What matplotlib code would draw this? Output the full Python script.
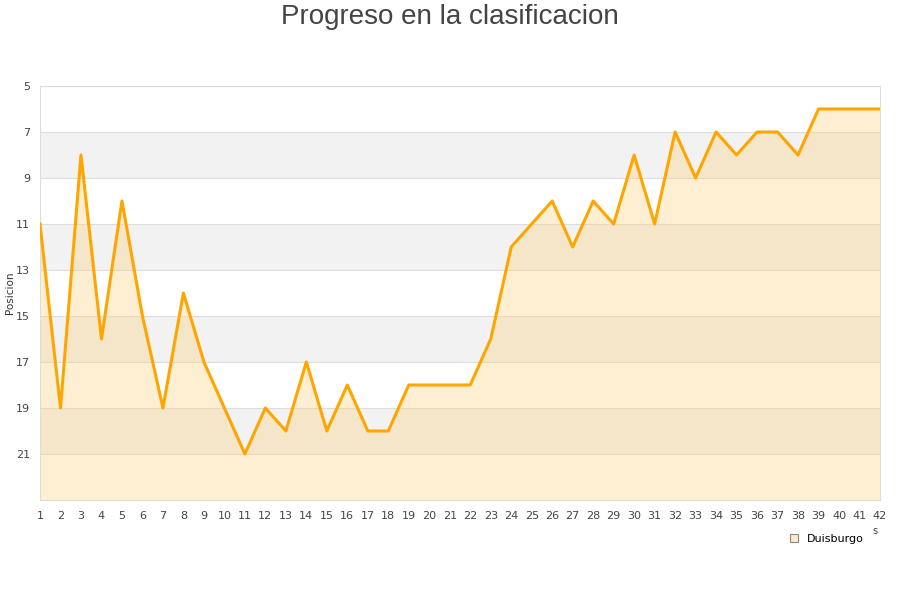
import matplotlib
matplotlib.use("Agg")
import matplotlib.pyplot as plt
from matplotlib.patches import Patch

# Jornadas and positions
jornadas = list(range(1, 43))
posicion = [11, 19, 8, 16, 10, 15, 19, 14, 17, 19,
            21, 19, 20, 17, 20, 18, 20, 20, 18, 18,
            18, 18, 16, 12, 11, 10, 12, 10, 11, 8,
            11, 7, 9, 7, 8, 7, 7, 8, 6, 6,
            6, 6]
y_ticks = [5, 7, 9, 11, 13, 15, 17, 19, 21]
equipo = "Duisburgo"

fig = plt.figure(figsize=(9, 6), dpi=100)
ax = fig.add_axes([40 / 900, 100 / 600, 840 / 900, 414 / 600])

# alternating stripes
for lo in [7, 11, 15, 19]:
    ax.axhspan(lo, lo + 2, color="#f2f2f2", zorder=0, lw=0)
for t in y_ticks:
    ax.axhline(t, color="#dddddd", lw=0.8, zorder=1)

ax.fill_between(jornadas, posicion, 23, color="#ffd27f", alpha=0.35, lw=0, zorder=2)
ax.plot(jornadas, posicion, color="#ffa500", lw=2.2, zorder=3)

ax.set_xlim(1, 42)
ax.set_ylim(23, 5)
ax.set_xticks(jornadas)
ax.set_yticks(y_ticks)
ax.tick_params(axis="both", length=0, labelsize=8, labelcolor="#444444", pad=8)
ax.tick_params(axis="y", pad=7)
for side in ["top", "right", "bottom", "left"]:
    ax.spines[side].set_color("#dddddd")
ax.set_ylabel("Posicion", fontsize=7.5, color="#333333")
ax.yaxis.set_label_coords(-25 / 840, 0.5)

fig.text(0.5, 1 - 17 / 600, "Progreso en la clasificacion", ha="center", va="center",
         fontsize=20, color="#444444", family="Liberation Sans")
fig.text(875 / 900, 1 - 531 / 600, "s", ha="center", va="center", fontsize=7, color="#444444")

handle = Patch(facecolor="#ffebc8", edgecolor="#888888", lw=0.8)
fig.legend([handle], [equipo], loc="center", bbox_to_anchor=(827 / 900, 1 - 539 / 600),
           frameon=False, fontsize=8, handlelength=0.7, handleheight=0.7, handletextpad=0.8)

plt.savefig("out.png")
plt.close()
